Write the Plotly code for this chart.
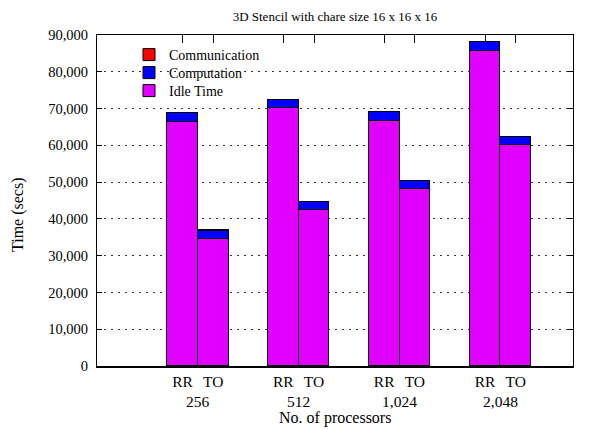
import plotly.graph_objects as go

groups = ["256", "512", "1,024", "2,048"]
bar_labels = ["RR", "TO"]
# values per bar in order: RR256, TO256, RR512, TO512, RR1024, TO1024, RR2048, TO2048
idle_time = [66300, 34600, 70200, 42500, 66700, 48000, 85700, 60100]
computation = [2400, 2200, 2200, 2000, 2300, 2200, 2400, 2100]
communication = [60, 60, 60, 60, 60, 60, 60, 60]

group_pos = [1, 2, 3, 4]
offset = 0.152
xs = []
tick_text = []
for g in group_pos:
    for j, lab in enumerate(bar_labels):
        xs.append(g - offset if j == 0 else g + offset)
        tick_text.append(lab)

# page is rendered with an 8px body margin; figure is sized/placed to compensate
W, H = 592, 421
PL, PT, PR, PB = 97, 35, 573, 366  # plot area in page pixels


def px(xp):
    return (xp - PL) / (PR - PL)


def py(yp):
    return (PB - yp) / (PB - PT)


font_fam = "Liberation Serif, Times New Roman, serif"
fig = go.Figure()
line = dict(color="black", width=1)
fig.add_trace(go.Bar(x=xs, y=idle_time, width=0.304, name="Idle Time", legend="legend3",
                     marker=dict(color="#e000ff", line=line)))
fig.add_trace(go.Bar(x=xs, y=computation, width=0.304, name="Computation", legend="legend2",
                     marker=dict(color="#0000ff", line=line)))
fig.add_trace(go.Bar(x=xs, y=communication, width=0.304, name="Communication", legend="legend",
                     marker=dict(color="#ff0000", line=line)))
# invisible trace for top axis ticks
fig.add_trace(go.Scatter(x=[xs[0]], y=[0], xaxis="x2", mode="markers",
                         marker=dict(opacity=0), showlegend=False, hoverinfo="skip"))

leg_common = dict(x=px(129), xanchor="left", yanchor="middle",
                  bgcolor="rgba(0,0,0,0)", font=dict(size=14, family=font_fam),
                  itemwidth=30)

fig.update_layout(
    width=W, height=H,
    margin=dict(l=PL - 8, r=600 - PR, t=PT - 8, b=429 - PB, autoexpand=False),
    paper_bgcolor="white", plot_bgcolor="white",
    barmode="stack", bargap=0,
    font=dict(family=font_fam, size=15, color="black"),
    title=dict(text="3D Stencil with chare size 16 x 16 x 16", x=(335 - 8) / W,
               xanchor="center", xref="container", y=1 - (16 - 8) / H, yanchor="middle",
               font=dict(size=13, family=font_fam)),
    showlegend=True,
    legend=dict(y=py(55), **leg_common),
    legend2=dict(y=py(73), **leg_common),
    legend3=dict(y=py(91), **leg_common),
    xaxis=dict(range=[0, 4.72], tickmode="array", tickvals=xs, ticktext=tick_text,
               ticks="", showgrid=False, zeroline=False, showline=True,
               linecolor="black", linewidth=2, mirror=False, automargin=False,
               tickfont=dict(size=15.5)),
    xaxis2=dict(range=[0, 4.72], overlaying="x", side="top", tickmode="array",
                tickvals=xs, ticks="inside", ticklen=8, tickcolor="black",
                showticklabels=False, showgrid=False, zeroline=False, automargin=False,
                showline=True, linecolor="black", linewidth=1),
    yaxis=dict(range=[0, 90000], tickmode="array",
               tickvals=list(range(0, 90001, 10000)),
               ticktext=["0"] + [f"{v:,}" for v in range(10000, 90001, 10000)],
               ticks="inside", ticklen=5, tickcolor="black", mirror="ticks",
               showline=True, linecolor="black", linewidth=1, automargin=False,
               showgrid=True, gridcolor="#333333", gridwidth=1, griddash="2px,5px",
               zeroline=False, tickfont=dict(size=14.5), ticklabelstandoff=5),
)

for g, lab in zip(group_pos, groups):
    fig.add_annotation(x=g, y=0, xref="x", yref="paper", text=lab, showarrow=False,
                       yanchor="top", yshift=-25, font=dict(size=15.5, family=font_fam))

fig.add_annotation(x=px(335), y=py(418), xref="paper", yref="paper",
                   text="No. of processors", showarrow=False, xanchor="center",
                   yanchor="middle", font=dict(size=16, family=font_fam))
fig.add_annotation(x=px(18), y=py(215), xref="paper", yref="paper",
                   text="Time (secs)", showarrow=False, textangle=-90,
                   xanchor="center", yanchor="middle", font=dict(size=16, family=font_fam))

fig.write_html("out.html")
